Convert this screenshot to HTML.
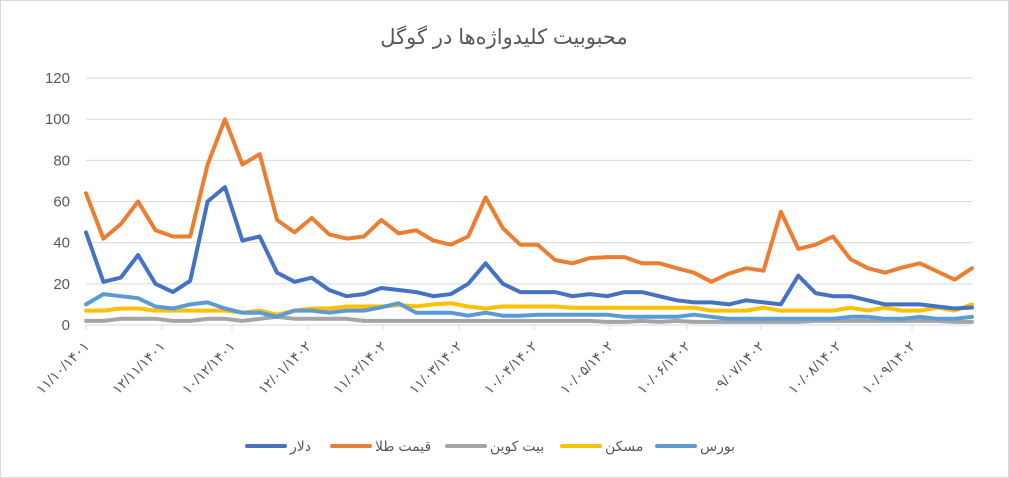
<!DOCTYPE html>
<html><head><meta charset="utf-8"><style>
html,body{margin:0;padding:0;background:#fff}
svg{display:block}
text{font-family:"Liberation Sans","DejaVu Sans",sans-serif}
</style></head><body>
<svg id="c" width="1009" height="478" viewBox="0 0 1009 478" xmlns="http://www.w3.org/2000/svg">
<rect x="0.5" y="0.5" width="1008" height="477" fill="#fff" stroke="#d9d9d9"/>
<text x="504" y="44" text-anchor="middle" font-size="21" fill="#595959">محبوبیت کلیدواژه‌ها در گوگل</text>
<g id="grid" stroke="#d9d9d9" stroke-width="1"></g>
<g id="ylab" font-size="15" fill="#595959" text-anchor="end"></g>
<g id="xlab" font-size="14" fill="#595959" letter-spacing="1"></g>
<g id="series" fill="none" stroke-width="4" stroke-linejoin="round" stroke-linecap="round"></g>
<g font-size="14" fill="#595959">
<line x1="247" y1="446" x2="285" y2="446" stroke="#4472c4" stroke-width="4" stroke-linecap="round"/>
<text x="290" y="451">دلار</text>
<line x1="332" y1="446" x2="370" y2="446" stroke="#ed7d31" stroke-width="4" stroke-linecap="round"/>
<text x="375" y="451">قیمت طلا</text>
<line x1="447" y1="446" x2="485" y2="446" stroke="#a5a5a5" stroke-width="4" stroke-linecap="round"/>
<text x="490" y="451">بیت کوین</text>
<line x1="562" y1="446" x2="600" y2="446" stroke="#ffc000" stroke-width="4" stroke-linecap="round"/>
<text x="605" y="451">مسکن</text>
<line x1="657" y1="446" x2="695" y2="446" stroke="#5b9bd5" stroke-width="4" stroke-linecap="round"/>
<text x="700" y="451">بورس</text>
</g>
</svg>
<script>
var NS="http://www.w3.org/2000/svg";
function el(p,t,a,txt){var e=document.createElementNS(NS,t);for(var k in a)e.setAttribute(k,a[k]);if(txt!=null)e.textContent=txt;document.getElementById(p).appendChild(e);return e;}
var x0=86,x1=972,y0=325,sc=2.058;
for(var i=0;i<=6;i++){var y=y0-i*20*sc;el("grid","line",{x1:x0,x2:x1,y1:y,y2:y});el("ylab","text",{x:70,y:y+5},String(i*20));}
var ticks=[86,162,232,308,383,459,534,610,687,761,838,912];
var labs=["۱۱/۱۰/۱۴۰۱","۱۲/۱۱/۱۴۰۱","۱۰/۱۲/۱۴۰۱","۱۲/۰۱/۱۴۰۲","۱۱/۰۲/۱۴۰۲","۱۱/۰۳/۱۴۰۲","۱۰/۰۴/۱۴۰۲","۱۰/۰۵/۱۴۰۲","۱۰/۰۶/۱۴۰۲","۰۹/۰۷/۱۴۰۲","۱۰/۰۸/۱۴۰۲","۱۰/۰۹/۱۴۰۲"];
ticks.forEach(function(t,i){el("grid","line",{x1:t,x2:t,y1:y0,y2:y0+5});
 el("xlab","text",{x:t+4,y:347,"text-anchor":"end",direction:"ltr",transform:"rotate(-45 "+(t+4)+" 347)"},"\u202A"+labs[i]+"\u202C");});
var gold=[64,42,49,60,46,43,43,78,100,78,83,51,45,52,44,42,43,51,44.5,46,41,39,43,62,47,39,39,31.6,30,32.5,33,33,30,30,27.6,25.4,21,25,27.6,26.4,55,37,39,43,32,27.6,25.4,28,30,26,22,27.6];
var dol=[45,21,23,34,20,16,21.5,60,67,41,43,25.4,21,23,17,14,15,18,17,16,14,15,20,30,20,16,16,16,14,15,14,16,16,14,12,11,11,10,12,11,10,24,15.5,14,14,12,10,10,10,9,8,8.5];
var bors=[10,15,14,13,9,8,10,11,8,6,6,4,7,7,6,7,7,8.6,10.6,6,6,6,4.5,6,4.5,4.5,5,5,5,5,5,4,4,4,4,5,4,3,3,3,3,3,3,3,4,4,3,3,4,3,3,4];
var mask=[7,7,8,8,7,7,7,7,7,6,7,5,7,8,8,9,9,9,9.7,9,10,10.6,9,8,9,9,9,9,8.4,8.4,8.4,8.4,8.4,8.4,8.4,8.4,7,7,7,8.4,7,7,7,7,8.4,7,8.4,7,7,8.4,7,10];
var btc=[2,2,3,3,3,2,2,3,3,2,3,4,3,3,3,3,2,2,2,2,2,2,2,2,2,2,2,2,2,2,1.5,1.5,2,1.5,2,1.5,1.5,1.5,1.5,1.5,1.5,1.5,2,2,2,2,2,2,2,2,1.5,1.5];
function draw(d,c){var n=d.length,dx=(x1-x0)/(n-1),p=d.map(function(v,i){return (x0+i*dx).toFixed(1)+","+(y0-v*sc).toFixed(1)}).join(" ");el("series","polyline",{points:p,stroke:c});}
draw(btc,"#a5a5a5");draw(mask,"#ffc000");draw(bors,"#5b9bd5");draw(gold,"#ed7d31");draw(dol,"#4472c4");
</script>
</body></html>
